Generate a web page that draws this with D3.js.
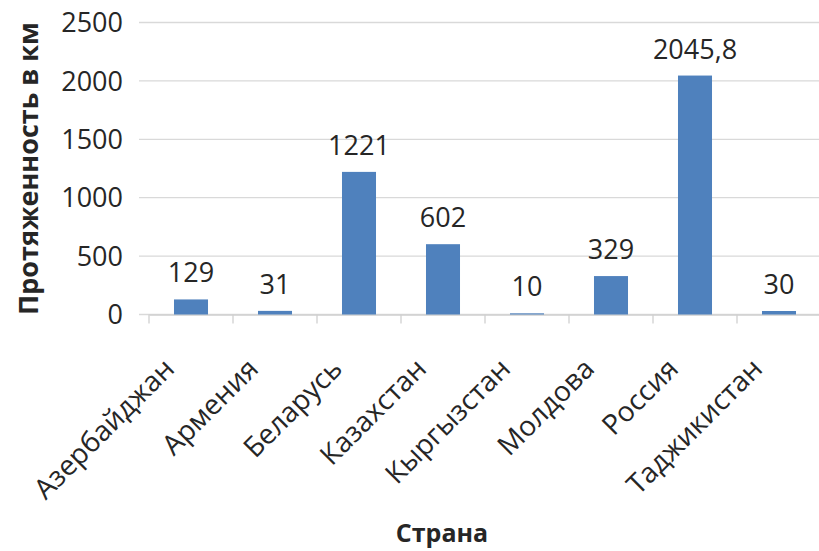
<!DOCTYPE html>
<html><head><meta charset="utf-8">
<script src="https://cdn.jsdelivr.net/npm/d3@7"></script>
<style>body{margin:0;background:#fff}svg{display:block}</style>
</head><body><svg id="c" width="819" height="551"></svg>
<script>
const categories = ["Азербайджан","Армения","Беларусь","Казахстан","Кыргызстан","Молдова","Россия","Таджикистан"];
const values = [129, 31, 1221, 602, 10, 329, 2045.8, 30];
const valueLabels = ["129","31","1221","602","10","329","2045,8","30"];
const yTicks = [0, 500, 1000, 1500, 2000, 2500];
const yTitle = "Протяженность в км";
const xTitle = "Страна";

const svg = d3.select("#c");
const FONT = "'Open Sans', 'Noto Sans', sans-serif";
const x = d3.scaleBand().domain(categories).range([149, 821]).padding(0);
const y = d3.scaleLinear().domain([0, 2500]).range([314.5, 22.5]);
const barW = x.bandwidth() * 0.405;

// gridlines
svg.append("g").selectAll("line").data(yTicks).join("line")
  .attr("x1", 139).attr("x2", 819)
  .attr("y1", d => y(d)).attr("y2", d => y(d))
  .attr("stroke", "#d9d9d9").attr("stroke-width", 1.3);

// y tick labels
svg.append("g").selectAll("text").data(yTicks).join("text")
  .attr("x", 123).attr("y", d => y(d)).attr("dy", "0.36em")
  .attr("text-anchor", "end").attr("font-family", FONT).attr("font-size", 27)
  .attr("fill", "#262626").text(d => d);

// x axis baseline & ticks
const xAxis = d3.axisBottom(x).tickSize(0).tickFormat("");
const gx = svg.append("g").attr("transform", `translate(0,${y(0)})`).call(xAxis);
gx.select(".domain").attr("stroke", "#d0d0d0").attr("stroke-width", 1.3);
gx.selectAll(".tick").remove();
const bounds = categories.map(c => x(c)).concat([x.range()[1]]);
svg.append("g").selectAll("line").data(bounds).join("line")
  .attr("x1", d => d).attr("x2", d => d)
  .attr("y1", y(0)).attr("y2", y(0) + 9)
  .attr("stroke", "#d0d0d0").attr("stroke-width", 1.3);

// bars
svg.append("g").selectAll("rect").data(values).join("rect")
  .attr("x", (d, i) => x(categories[i]) + (x.bandwidth() - barW) / 2)
  .attr("width", barW)
  .attr("y", d => y(d))
  .attr("height", d => y(0) - y(d))
  .attr("fill", "#4f81bd");

// value labels
svg.append("g").selectAll("text").data(values).join("text")
  .attr("x", (d, i) => x(categories[i]) + x.bandwidth() / 2)
  .attr("y", d => y(d) - 17)
  .attr("text-anchor", "middle").attr("font-family", FONT).attr("font-size", 27)
  .attr("fill", "#262626").text((d, i) => valueLabels[i]);

// category labels
svg.append("g").selectAll("text").data(categories).join("text")
  .attr("transform", d => `translate(${x(d) + x.bandwidth() / 2 - 15},${y(0) + 56}) rotate(-45)`)
  .attr("text-anchor", "end").attr("font-family", FONT).attr("font-size", 28)
  .attr("fill", "#262626").text(d => d);

// axis titles
svg.append("text")
  .attr("transform", `translate(38,${(y(0) + y(2500)) / 2}) rotate(-90)`)
  .attr("text-anchor", "middle").attr("font-family", FONT).attr("font-weight", "bold")
  .attr("font-size", 27).attr("fill", "#262626").text(yTitle);
svg.append("text")
  .attr("x", 442).attr("y", 542)
  .attr("text-anchor", "middle").attr("font-family", FONT).attr("font-weight", "bold")
  .attr("font-size", 25).attr("fill", "#262626").text(xTitle);
</script></body></html>
